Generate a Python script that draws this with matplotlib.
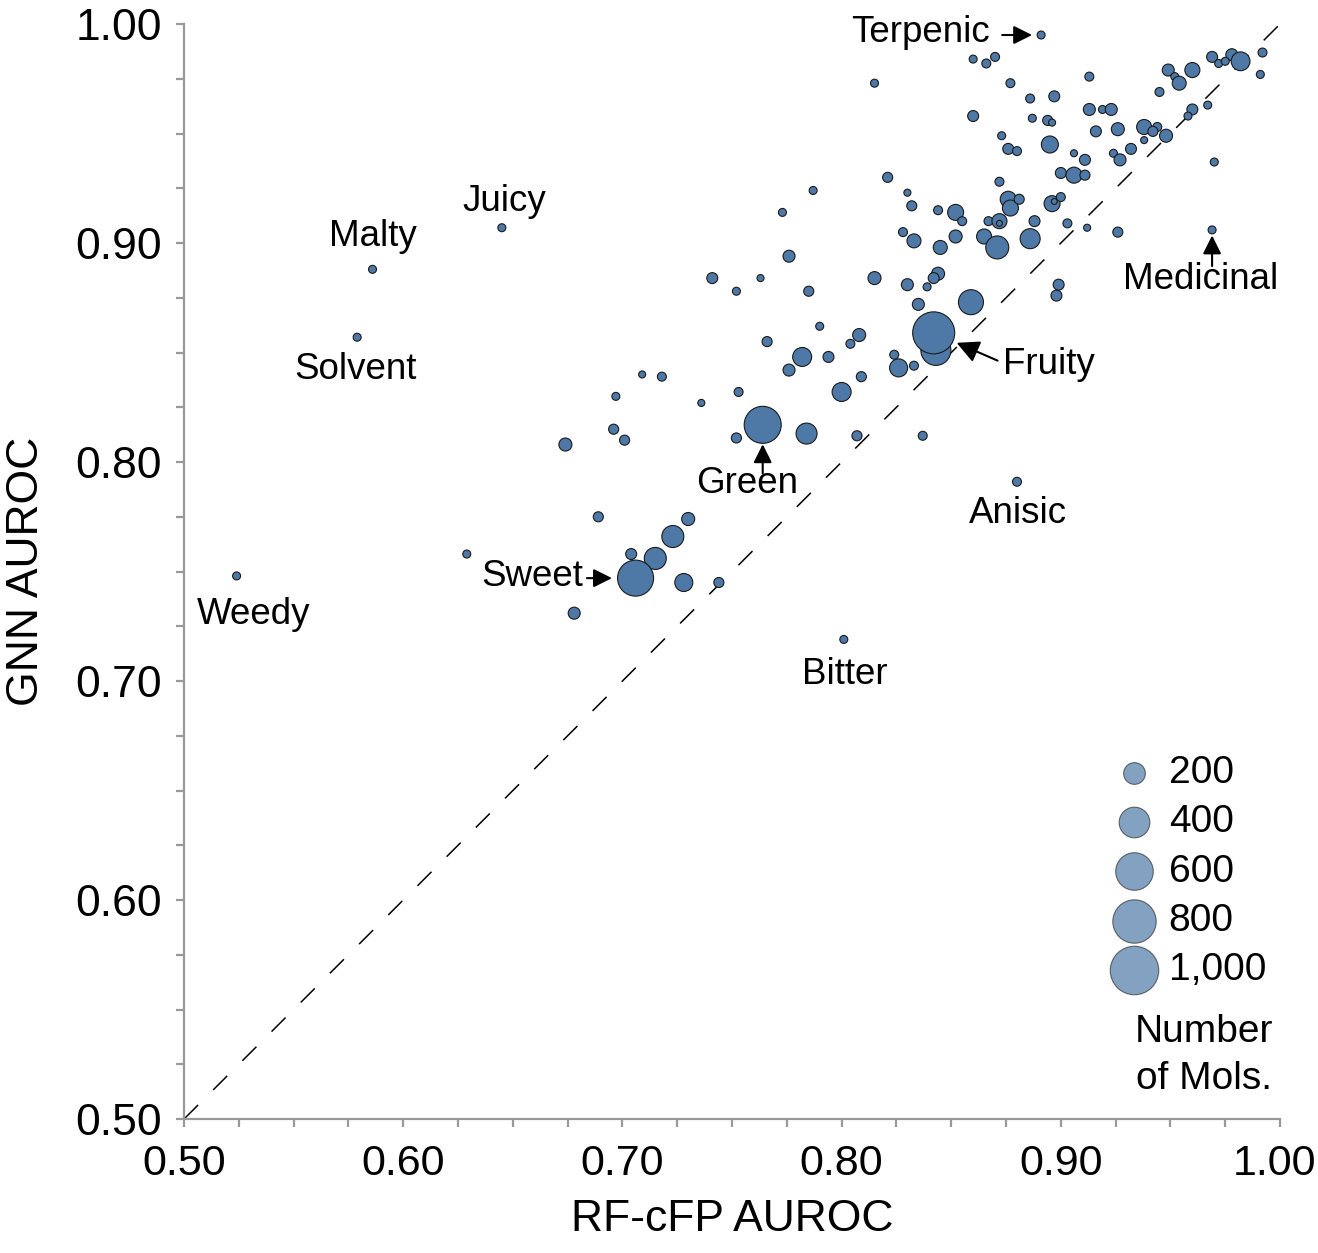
import numpy as np
import matplotlib.pyplot as plt
from matplotlib.ticker import MultipleLocator, FuncFormatter, FormatStrFormatter

plt.rcParams['font.family'] = ['Liberation Sans', 'DejaVu Sans']

# AUROC per odor descriptor: RF on count fingerprints (x) vs GNN (y)
# the last 11 entries are the annotated descriptors (same order as odor_names)
rf_auroc = [
    0.860, 0.866, 0.870, 0.815, 0.877, 0.913, 0.969, 0.978, 0.972, 0.975,
    0.982, 0.992, 0.991, 0.949, 0.960, 0.952, 0.954, 0.945, 0.886, 0.897,
    0.860, 0.913, 0.919, 0.923, 0.960, 0.958, 0.967, 0.887, 0.894, 0.896,
    0.938, 0.944, 0.942, 0.948, 0.873, 0.916, 0.926, 0.938, 0.876, 0.880,
    0.895, 0.906, 0.911, 0.924, 0.927, 0.932, 0.970, 0.821, 0.787, 0.872,
    0.900, 0.906, 0.911, 0.830, 0.832, 0.844, 0.852, 0.855, 0.876, 0.877,
    0.881, 0.896, 0.897, 0.900, 0.867, 0.872, 0.872, 0.888, 0.903, 0.912,
    0.926, 0.828, 0.833, 0.852, 0.845, 0.865, 0.871, 0.886, 0.815, 0.844,
    0.776, 0.741, 0.763, 0.752, 0.785, 0.830, 0.839, 0.842, 0.899, 0.898,
    0.859, 0.835, 0.843, 0.790, 0.766, 0.808, 0.804, 0.782, 0.794, 0.776,
    0.809, 0.824, 0.826, 0.833, 0.800, 0.753, 0.736, 0.752, 0.784, 0.807,
    0.837, 0.773, 0.709, 0.718, 0.697, 0.696, 0.701, 0.674, 0.689, 0.730,
    0.723, 0.704, 0.715, 0.728, 0.744, 0.678, 0.629,
    # annotated
    0.891, 0.969, 0.842, 0.764, 0.706, 0.801, 0.524, 0.586, 0.579, 0.645,
    0.880,
]
gnn_auroc = [
    0.984, 0.982, 0.985, 0.973, 0.973, 0.976, 0.985, 0.986, 0.982, 0.983,
    0.983, 0.987, 0.977, 0.979, 0.979, 0.976, 0.973, 0.969, 0.966, 0.967,
    0.958, 0.961, 0.961, 0.961, 0.961, 0.958, 0.963, 0.957, 0.956, 0.955,
    0.953, 0.953, 0.951, 0.949, 0.949, 0.951, 0.952, 0.947, 0.943, 0.942,
    0.945, 0.941, 0.938, 0.941, 0.938, 0.943, 0.937, 0.930, 0.924, 0.928,
    0.932, 0.931, 0.931, 0.923, 0.917, 0.915, 0.914, 0.910, 0.920, 0.916,
    0.920, 0.918, 0.919, 0.921, 0.910, 0.910, 0.909, 0.910, 0.909, 0.907,
    0.905, 0.905, 0.901, 0.903, 0.898, 0.903, 0.898, 0.902, 0.884, 0.886,
    0.894, 0.884, 0.884, 0.878, 0.878, 0.881, 0.880, 0.884, 0.881, 0.876,
    0.873, 0.872, 0.851, 0.862, 0.855, 0.858, 0.854, 0.848, 0.848, 0.842,
    0.839, 0.849, 0.843, 0.844, 0.832, 0.832, 0.827, 0.811, 0.813, 0.812,
    0.812, 0.914, 0.840, 0.839, 0.830, 0.815, 0.810, 0.808, 0.775, 0.774,
    0.766, 0.758, 0.756, 0.745, 0.745, 0.731, 0.758,
    # annotated
    0.995, 0.906, 0.859, 0.817, 0.747, 0.719, 0.748, 0.888, 0.857, 0.907,
    0.791,
]
n_mols = [
    27, 34, 34, 27, 34, 34, 51, 61, 27, 27,
    150, 34, 27, 61, 96, 27, 83, 34, 34, 51,
    51, 61, 27, 61, 51, 27, 27, 27, 43, 21,
    96, 34, 43, 72, 27, 51, 72, 21, 51, 34,
    123, 21, 51, 27, 61, 51, 27, 43, 27, 34,
    51, 109, 43, 21, 43, 34, 109, 34, 109, 109,
    43, 109, 15, 34, 34, 96, 15, 51, 34, 21,
    43, 34, 83, 72, 83, 96, 225, 170, 72, 72,
    61, 51, 21, 27, 43, 61, 27, 51, 51, 51,
    266, 61, 383, 27, 43, 72, 34, 153, 51, 61,
    43, 34, 138, 34, 153, 34, 21, 43, 187, 43,
    34, 27, 21, 34, 27, 43, 43, 72, 43, 72,
    206, 51, 206, 138, 43, 61, 27,
    # annotated
    27, 27, 750, 582, 551, 27, 27, 27, 27, 27,
    34,
]
odor_names = ["Terpenic", "Medicinal", "Fruity", "Green", "Sweet", "Bitter",
              "Weedy", "Malty", "Solvent", "Juicy", "Anisic"]

legend_counts = [200, 400, 600, 800, 1000]
legend_labels = ["200", "400", "600", "800", "1,000"]

point_color = "#4E79A7"
size_scale = 1.22  # marker area (pt^2) per molecule

fig = plt.figure(figsize=(13.18, 12.53), dpi=100)
ax = fig.add_axes([0.1396, 0.1069, 0.8316, 0.8739])

# diagonal y = x
ax.plot([0.5, 1.0], [0.5, 1.0], color="black", lw=1.1, ls=(0, (13, 14)), zorder=1)

ax.scatter(rf_auroc, gnn_auroc, s=np.array(n_mols) * size_scale, color=point_color,
           edgecolors="#1a1a1a", linewidths=0.8, zorder=3, clip_on=False)

# annotations: text offset (pt), alignment, arrow tail offset (pt), shrink at point, head scale
label_style = {
    "Terpenic": ((-37, 1.5), "right", (-28, 0), 6.5, 28),
    "Medicinal": ((-8, -36), "center", (0, -26), 4, 28),
    "Fruity": ((50, -23), "left", (46, -20), 18, 34),
    "Green": ((-11, -42), "center", (0, -35), 14, 28),
    "Sweet": ((-38, 1), "right", (-35, 0), 17, 28),
    "Bitter": ((1, -25), "center", None, 0, 0),
    "Weedy": ((12, -28), "center", None, 0, 0),
    "Malty": ((0, 24), "center", None, 0, 0),
    "Solvent": ((-1, -23), "center", None, 0, 0),
    "Juicy": ((2, 19), "center", None, 0, 0),
    "Anisic": ((1, -23), "center", None, 0, 0),
}
n_lab = len(odor_names)
for name, x, y in zip(odor_names, rf_auroc[-n_lab:], gnn_auroc[-n_lab:]):
    off, ha, tail, shrink, ms = label_style[name]
    ax.annotate(name, xy=(x, y), xytext=off, textcoords="offset points",
                ha=ha, va="center", fontsize=26.5, zorder=5)
    if tail is not None:
        ax.annotate("", xy=(x, y), xytext=tail, textcoords="offset points",
                    arrowprops=dict(arrowstyle="-|>", color="black", lw=1.5,
                                    mutation_scale=ms, shrinkA=0, shrinkB=shrink),
                    zorder=5)

# axes styling
ax.set_xlim(0.5, 1.0)
ax.set_ylim(0.5, 1.0)
for side in ["top", "right"]:
    ax.spines[side].set_visible(False)
for side in ["left", "bottom"]:
    ax.spines[side].set_color("#999999")
    ax.spines[side].set_linewidth(1.6)
ax.xaxis.set_major_locator(MultipleLocator(0.1))
ax.yaxis.set_major_locator(MultipleLocator(0.1))
ax.xaxis.set_minor_locator(MultipleLocator(0.025))
ax.yaxis.set_minor_locator(MultipleLocator(0.025))
# the 1.00 x label is drawn separately, nudged left so it stays inside the figure
ax.xaxis.set_major_formatter(FuncFormatter(lambda v, p: "" if v > 0.995 else f"{v:.2f}"))
ax.yaxis.set_major_formatter(FormatStrFormatter("%.2f"))
ax.tick_params(which="both", direction="out", length=6, width=1.6, color="#999999")
ax.tick_params(axis="y", pad=10, labelsize=32)
ax.tick_params(axis="x", pad=12, labelsize=31)
ax.annotate("1.00", xy=(1.0, 0), xycoords=("data", "axes fraction"),
            xytext=(-4, -17.8), textcoords="offset points", ha="center", va="top",
            fontsize=31)
ax.set_xlabel("RF-cFP AUROC", fontsize=32, labelpad=11)
ax.set_ylabel("GNN AUROC", fontsize=32, labelpad=20)

# size legend
handles = [ax.scatter([], [], s=c * size_scale, color=point_color, alpha=0.7,
                      edgecolors="#333333", linewidths=0.8) for c in legend_counts]
ax.legend(handles, legend_labels, loc="center", bbox_to_anchor=(0.918, 0.226),
          frameon=False, fontsize=28, labelspacing=0.34, handlelength=1.0,
          handletextpad=0.4, borderpad=0, scatterpoints=1)
ax.text(0.931, 0.058, "Number\nof Mols.", transform=ax.transAxes, ha="center",
        va="center", fontsize=28, linespacing=1.42)

fig.savefig("out.png", dpi=100)
